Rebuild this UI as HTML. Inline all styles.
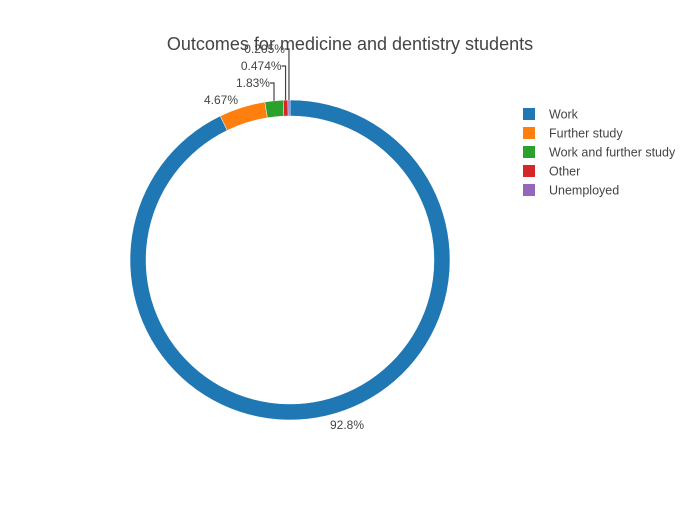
<!DOCTYPE html>
<html><head><meta charset="utf-8"><style>
body{margin:0;background:#fff}
svg text{font-family:"Liberation Sans",sans-serif}
</style></head><body>
<svg id="c" width="700" height="500">
<text x="350" y="50" text-anchor="middle" font-size="18" fill="#444">Outcomes for medicine and dentistry students</text>
<g id="slices"></g><g id="labels"></g><g id="legend"></g>
</svg>
<script>
const categories=["Work","Further study","Work and further study","Other","Unemployed"];
const values=[92.8,4.67,1.83,0.474,0.205];
const labelsText=["92.8%","4.67%","1.83%","0.474%","0.205%"];
const colors=["#1f77b4","#ff7f0e","#2ca02c","#d62728","#9467bd"];
const ns="http://www.w3.org/2000/svg";
const cx=290,cy=260,R=160,r=144;
const total=values.reduce((a,b)=>a+b,0);
function pt(a,rad){return [cx+rad*Math.sin(a),cy-rad*Math.cos(a)];}
function mk(t,attrs,parent){const e=document.createElementNS(ns,t);for(const k in attrs)e.setAttribute(k,attrs[k]);document.getElementById(parent).appendChild(e);return e;}
let a0=0;
values.forEach((v,i)=>{
 const a1=a0+v/total*2*Math.PI;
 const L=(a1-a0)>Math.PI?1:0;
 const p1=pt(a0,R),p2=pt(a1,R),p3=pt(a1,r),p4=pt(a0,r);
 const p=mk('path',{d:`M${p1}A${R},${R} 0 ${L} 1 ${p2}L${p3}A${r},${r} 0 ${L} 0 ${p4}Z`,fill:colors[i],stroke:'#fff','stroke-width':0.5},'slices');
 
 
 const am=(a0+a1)/2, po=pt(am,R);
 let t;
 if(i===0){
  t=mk('text',{x:347,y:429,'text-anchor':'middle','font-size':12,fill:'#444'},'labels');
 }else if(i===1){
  t=mk('text',{x:221,y:104,'text-anchor':'middle','font-size':12,fill:'#444'},'labels');
 }else{
  const ly=[0,0,83,66,49][i];
  const ln=mk('path',{d:`M${po[0]},${po[1]}V${ly}H${po[0]-4}`,fill:'none',stroke:'#444','stroke-width':1.2},'labels');
  
  
  t=mk('text',{x:po[0]-4,y:ly+4,'text-anchor':'end','font-size':12,fill:'#444'},'labels');
 }
 t.textContent=labelsText[i];
 
 
 a0=a1;
});
categories.forEach((c,i)=>{
 const y=114+i*19;
 const s=mk('rect',{x:523,y:y-6,width:12,height:12,fill:colors[i]},'legend');
 
 
 const t=mk('text',{x:549,y:y+4.5,'font-size':12.5,fill:'#444'},'legend');
 t.textContent=c;
 
 
});
</script>
</body></html>
